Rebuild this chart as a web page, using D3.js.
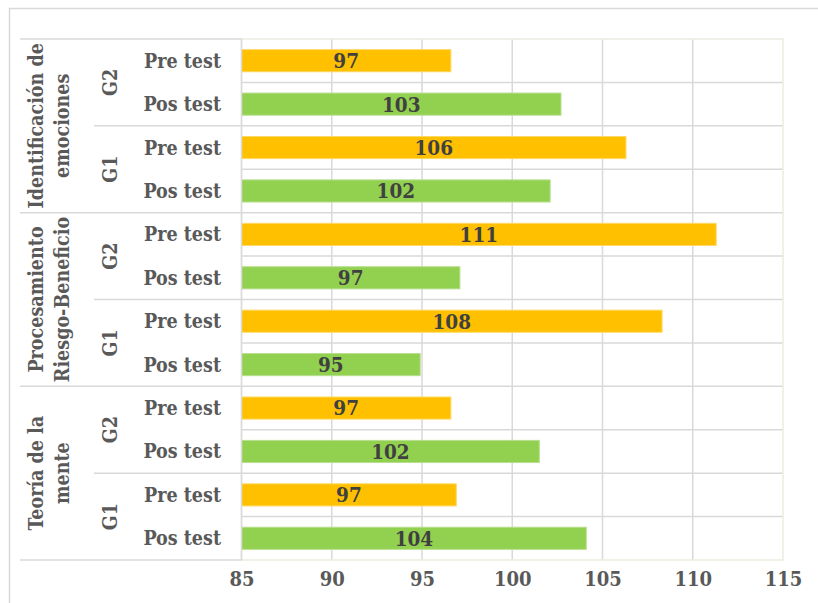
<!DOCTYPE html>
<html>
<head>
<meta charset="utf-8">
<script src="https://cdn.jsdelivr.net/npm/d3@7"></script>
<style>
  body { margin: 0; background: #fff; }
  text { font-family: "DejaVu Serif Condensed", "DejaVu Serif", serif; font-weight: bold; }
</style>
</head>
<body>
<div id="chart"></div>
<script>
// categories, top to bottom
var categories = [["Identificación de", "emociones"], ["Procesamiento", "Riesgo-Beneficio"], ["Teoría de la", "mente"]];
var groups = ["G2", "G1"];
var tests = ["Pre test", "Pos test"];
// one value per bar, same order as rows (category > group > test)
var values = [96.6, 102.7, 106.3, 102.1,
              111.3, 97.1, 108.3, 94.9,
              96.6, 101.5, 96.9, 104.1];
var ticks = [85, 90, 95, 100, 105, 110, 115];

var width = 818, height = 603;
var plotLeft = 241.5, plotRight = 783, plotTop = 39, plotBottom = 560;

var rows = [];
categories.forEach(function(c, ci) {
  groups.forEach(function(g, gi) {
    tests.forEach(function(t, ti) {
      var i = rows.length;
      rows.push({id: i, cat: ci, group: gi, test: t, value: values[i]});
    });
  });
});

var svg = d3.select("#chart").append("svg")
  .attr("width", width)
  .attr("height", height);

// outer chart frame
svg.append("rect")
  .attr("x", 9.5).attr("y", 8.5)
  .attr("width", 830).attr("height", 620)
  .attr("fill", "none").attr("stroke", "#d9d9d9").attr("stroke-width", 1.5);

var x = d3.scaleLinear().domain([85, 115]).range([plotLeft, plotRight]);
var y = d3.scaleBand().domain(rows.map(function(d) { return d.id; }))
  .range([plotTop, plotBottom]).paddingInner(0.49).paddingOuter(0.245);
var rowH = (plotBottom - plotTop) / rows.length;

// vertical grid
svg.append("g").selectAll("line")
  .data(ticks.slice(1, -1))
  .enter().append("line")
  .attr("x1", function(d) { return x(d); }).attr("x2", function(d) { return x(d); })
  .attr("y1", plotTop).attr("y2", plotBottom)
  .attr("stroke", "#d9d9d9").attr("stroke-width", 1.5);

// horizontal row lines in the plot
svg.append("g").selectAll("line")
  .data(d3.range(1, rows.length))
  .enter().append("line")
  .attr("x1", plotLeft).attr("x2", plotRight)
  .attr("y1", function(d) { return plotTop + d * rowH; })
  .attr("y2", function(d) { return plotTop + d * rowH; })
  .attr("stroke", "#d9d9d9").attr("stroke-width", 1.5);

// plot frame
svg.append("rect")
  .attr("x", plotLeft).attr("y", plotTop)
  .attr("width", plotRight - plotLeft).attr("height", plotBottom - plotTop)
  .attr("fill", "none").attr("stroke", "#ecebe2").attr("stroke-width", 1.5);

// bars
svg.append("g").selectAll("rect")
  .data(rows)
  .enter().append("rect")
  .attr("x", x(85))
  .attr("y", function(d) { return y(d.id); })
  .attr("width", function(d) { return x(d.value) - x(85); })
  .attr("height", y.bandwidth())
  .attr("fill", function(d) { return d.test == "Pre test" ? "#ffc000" : "#92d050"; })
  .attr("stroke", function(d) { return d.test == "Pre test" ? "#ffd966" : "#b7df8f"; })
  .attr("stroke-width", 1);

// value labels
svg.append("g").selectAll("text")
  .data(rows)
  .enter().append("text")
  .attr("x", function(d) { return (x(85) + x(d.value)) / 2; })
  .attr("y", function(d) { return y(d.id) + y.bandwidth() / 2; })
  .attr("dy", "0.36em")
  .attr("text-anchor", "middle")
  .attr("font-size", 20.5)
  .attr("fill", "#404040")
  .text(function(d) { return Math.round(d.value); });

// left axis line
svg.append("line")
  .attr("x1", plotLeft).attr("x2", plotLeft).attr("y1", plotTop).attr("y2", plotBottom)
  .attr("stroke", "#d9d9d9").attr("stroke-width", 1.5);

// test labels
svg.append("g").selectAll("text")
  .data(rows)
  .enter().append("text")
  .attr("x", 221)
  .attr("y", function(d) { return y(d.id) + y.bandwidth() / 2; })
  .attr("dy", "0.36em")
  .attr("text-anchor", "end")
  .attr("font-size", 19.5)
  .attr("fill", "#595959")
  .text(function(d) { return d.test; });

// group separators and labels
var groupRows = [];
categories.forEach(function(c, ci) {
  groups.forEach(function(g, gi) {
    groupRows.push({cat: ci, name: g, start: (ci * 2 + gi) * 2});
  });
});

svg.append("g").selectAll("line")
  .data(groupRows.filter(function(d, i) { return i % 2 == 1; }))
  .enter().append("line")
  .attr("x1", 94).attr("x2", plotLeft)
  .attr("y1", function(d) { return plotTop + d.start * rowH; })
  .attr("y2", function(d) { return plotTop + d.start * rowH; })
  .attr("stroke", "#d9d9d9").attr("stroke-width", 1.5);

svg.append("g").selectAll("text")
  .data(groupRows)
  .enter().append("text")
  .attr("transform", function(d) {
    return "translate(110," + (plotTop + (d.start + 1) * rowH) + ") rotate(-90)";
  })
  .attr("dy", "0.36em")
  .attr("text-anchor", "middle")
  .attr("font-size", 19.5)
  .attr("fill", "#595959")
  .text(function(d) { return d.name; });

// category separators and labels
svg.append("g").selectAll("line")
  .data(d3.range(0, categories.length + 1))
  .enter().append("line")
  .attr("x1", 20).attr("x2", plotLeft)
  .attr("y1", function(d) { return plotTop + d * 4 * rowH; })
  .attr("y2", function(d) { return plotTop + d * 4 * rowH; })
  .attr("stroke", "#d9d9d9").attr("stroke-width", 1.5);

var catLabel = svg.append("g").selectAll("text")
  .data(categories)
  .enter().append("text")
  .attr("transform", function(d, i) {
    return "translate(49," + (plotTop + (i * 4 + 2) * rowH) + ") rotate(-90)";
  })
  .attr("text-anchor", "middle")
  .attr("font-size", 19.5)
  .attr("fill", "#595959");

catLabel.selectAll("tspan")
  .data(function(d) { return d; })
  .enter().append("tspan")
  .attr("x", 0)
  .attr("y", function(d, i) { return i == 0 ? -6 : 20; })
  .text(function(d) { return d; });

// bottom axis
var axis = svg.append("g")
  .attr("transform", "translate(0," + plotBottom + ")")
  .call(d3.axisBottom(x).tickValues(ticks).tickSize(0).tickPadding(12));
axis.select(".domain").remove();
axis.selectAll("text")
  .attr("font-size", 20)
  .attr("font-family", null)
  .attr("fill", "#595959");
</script>
</body>
</html>
